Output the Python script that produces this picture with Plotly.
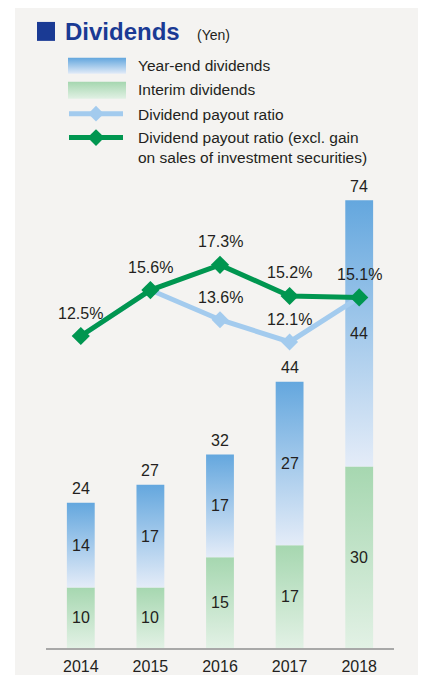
import plotly.graph_objects as go

# ---------------- data ----------------
years = ["2014", "2015", "2016", "2017", "2018"]
interim = [10, 10, 15, 17, 30]
year_end = [14, 17, 17, 27, 44]
totals = [24, 27, 32, 44, 74]
payout = [12.5, 15.6, 13.6, 12.1, 15.1]
payout_excl = [12.5, 15.6, 17.3, 15.2, 15.1]

legend_labels = ["Year-end dividends", "Interim dividends", "Dividend payout ratio",
                 "Dividend payout ratio (excl. gain<br>on sales of investment securities)"]

# ---------------- style ----------------
W, H = 422, 675
FONT = "Liberation Sans, Arial, Helvetica, sans-serif"
TXT = "#231f20"
BLUE_TOP, BLUE_BOT = "#64a7de", "#e4ecf8"
GREEN_TOP, GREEN_BOT = "#a6d7b0", "#e2f1e5"
LINE_BLUE = "#a3cbee"
LINE_GREEN = "#009650"
TITLE_BLUE = "#1a3a94"
BAR_HALF = 0.2


def px(x):
    return x / W


def py(y):
    return 1 - y / H


fig = go.Figure()

# stacked bars drawn as gradient-filled polygons on the data axes
for i in range(len(years)):
    segs = [(0, interim[i], GREEN_BOT, GREEN_TOP),
            (interim[i], interim[i] + year_end[i], BLUE_BOT, BLUE_TOP)]
    for base, top, cb, ct in segs:
        fig.add_trace(go.Scatter(
            x=[i - BAR_HALF, i + BAR_HALF, i + BAR_HALF, i - BAR_HALF, i - BAR_HALF],
            y=[base, base, top, top, base],
            mode="lines", fill="toself", line=dict(width=0),
            fillgradient=dict(type="vertical", colorscale=[[0, cb], [1, ct]]),
            hoverinfo="skip", showlegend=False, xaxis="x", yaxis="y"))

# payout ratio lines
xi = list(range(len(years)))
fig.add_trace(go.Scatter(x=xi, y=payout, mode="lines+markers", yaxis="y2",
                         line=dict(color=LINE_BLUE, width=5),
                         marker=dict(symbol="diamond", size=13, color=LINE_BLUE),
                         showlegend=False, hoverinfo="skip"))
fig.add_trace(go.Scatter(x=xi, y=payout_excl, mode="lines+markers", yaxis="y2",
                         line=dict(color=LINE_GREEN, width=5),
                         marker=dict(symbol="diamond", size=14, color=LINE_GREEN),
                         showlegend=False, hoverinfo="skip"))

annotations = []
for i in range(len(years)):
    annotations.append(dict(x=i, y=interim[i] / 2, xref="x", yref="y", text=str(interim[i]),
                            showarrow=False, font=dict(size=16, color=TXT, family=FONT)))
    annotations.append(dict(x=i, y=interim[i] + year_end[i] / 2, xref="x", yref="y",
                            text=str(year_end[i]), showarrow=False,
                            font=dict(size=16, color=TXT, family=FONT)))
    annotations.append(dict(x=i, y=totals[i], xref="x", yref="y", text=str(totals[i]),
                            showarrow=False, yshift=14, yanchor="middle",
                            font=dict(size=16, color=TXT, family=FONT)))
    annotations.append(dict(x=i, y=payout_excl[i], xref="x", yref="y2",
                            text=f"{payout_excl[i]:.1f}%", showarrow=False, yshift=23,
                            font=dict(size=16, color=TXT, family=FONT)))
    if payout[i] != payout_excl[i]:
        annotations.append(dict(x=i, y=payout[i], xref="x", yref="y2",
                                text=f"{payout[i]:.1f}%", showarrow=False, yshift=22,
                                font=dict(size=16, color=TXT, family=FONT)))

# ---------------- title & legend (decorations) ----------------
shapes = [
    dict(type="rect", xref="paper", yref="paper", x0=px(15), x1=px(418), y0=-0.01, y1=py(8),
         fillcolor="#f4f3f1", line=dict(width=0), layer="below"),
    dict(type="rect", xref="paper", yref="paper", x0=px(37), x1=px(55), y0=py(41), y1=py(22),
         fillcolor=TITLE_BLUE, line=dict(width=0)),
]
annotations.append(dict(x=px(63), y=py(32), xref="paper", yref="paper", xanchor="left",
                        yanchor="middle", text="<b>Dividends</b>", showarrow=False,
                        font=dict(size=24, color=TITLE_BLUE, family=FONT)))
annotations.append(dict(x=px(195), y=py(35), xref="paper", yref="paper", xanchor="left",
                        yanchor="middle", text="(Yen)", showarrow=False,
                        font=dict(size=14, color=TXT, family=FONT)))

# legend swatches on an overlay pixel axis (screen pixel coordinates)
sw = [(58, 74, BLUE_TOP, BLUE_BOT), (82, 99, GREEN_TOP, GREEN_BOT)]
for y0, y1, ct, cb in sw:
    fig.add_trace(go.Scatter(x=[68, 126, 126, 68, 68], y=[y0, y0, y1, y1, y0],
                             mode="lines", fill="toself", line=dict(width=0),
                             fillgradient=dict(type="vertical", colorscale=[[0, cb], [1, ct]],
                                               start=y1, stop=y0),
                             xaxis="x3", yaxis="y3", hoverinfo="skip", showlegend=False))
for yy, col, ms in [(114, LINE_BLUE, 12), (138, LINE_GREEN, 13)]:
    fig.add_trace(go.Scatter(x=[69, 123], y=[yy, yy], mode="lines",
                             line=dict(color=col, width=5), xaxis="x3", yaxis="y3",
                             hoverinfo="skip", showlegend=False))
    fig.add_trace(go.Scatter(x=[96], y=[yy], mode="markers",
                             marker=dict(symbol="diamond", size=ms, color=col),
                             xaxis="x3", yaxis="y3", hoverinfo="skip", showlegend=False))

for lbl, yy in zip(legend_labels, [66, 90, 115, 148]):
    annotations.append(dict(x=px(136), y=py(yy), xref="paper", yref="paper", xanchor="left",
                            yanchor="middle", align="left", text=lbl, showarrow=False,
                            font=dict(size=15.5, color=TXT, family=FONT)))

fig.update_layout(
    width=W, height=H, autosize=False,
    margin=dict(l=0, r=0, t=0, b=0),
    paper_bgcolor="white", plot_bgcolor="rgba(0,0,0,0)",
    showlegend=False,
    xaxis=dict(domain=[px(46), px(394)], range=[-0.5, 4.5], tickmode="array",
               tickvals=xi, ticktext=years, showgrid=False, zeroline=False,
               showline=True, linecolor="#a8a8a8", linewidth=1.5, ticks="",
               ticklabelstandoff=3,
               tickfont=dict(size=16, color=TXT, family=FONT), anchor="y",
               fixedrange=True),
    yaxis=dict(domain=[py(650), py(180)], range=[0, 470 / 6.07], visible=False,
               fixedrange=True),
    yaxis2=dict(overlaying="y", range=[-8.55, 23.06], visible=False, fixedrange=True),
    xaxis3=dict(domain=[0, 1], range=[0, W], visible=False, anchor="y3", fixedrange=True),
    yaxis3=dict(domain=[0, 1], range=[H, 0], visible=False, anchor="x3", fixedrange=True),
    shapes=shapes, annotations=annotations,
)

fig.write_html("out.html",
               config={"displayModeBar": False, "staticPlot": True},
               post_script="document.body.style.margin='0';"
                           "document.body.style.overflow='hidden';")
